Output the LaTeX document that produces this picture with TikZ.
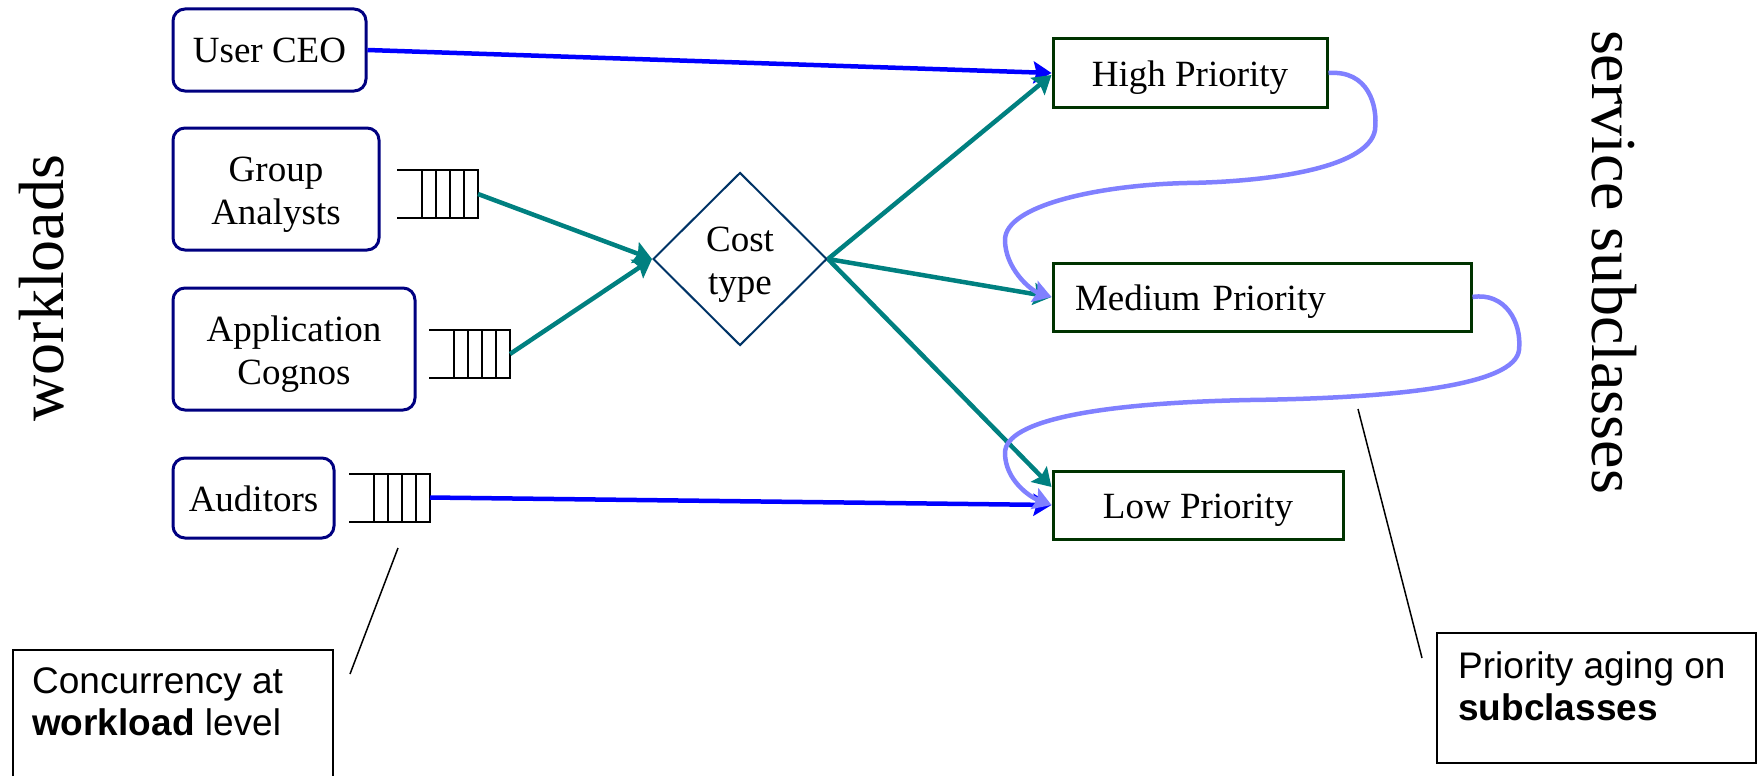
\documentclass[tikz,border=0pt]{standalone}
\usepackage{fontspec}
\setmainfont{Liberation Serif}
\newfontfamily\calloutfont{Liberation Sans}
\usetikzlibrary{shapes.geometric,arrows.meta,calc}

\definecolor{wlnavy}{HTML}{000080}
\definecolor{prgreen}{HTML}{003300}
\definecolor{costblue}{HTML}{003366}
\definecolor{flowteal}{HTML}{008080}
\definecolor{flowblue}{HTML}{0000FF}
\definecolor{agingblue}{HTML}{8080FF}

\tikzset{
  bodytext/.style={font=\fontsize{37}{43}\selectfont},
  oneline/.style={text height=30pt, text depth=4pt},
  twoline/.style={text height=74pt, text depth=4pt},
  wlbox/.style={bodytext, draw=wlnavy, line width=3pt, rounded corners=12pt,
    align=center, inner sep=0pt},
  prbox/.style={bodytext, oneline, draw=prgreen, line width=3pt, inner sep=0pt,
    minimum height=68pt},
  costbox/.style={bodytext, twoline, shape=diamond, draw=costblue, line width=2pt,
    aspect=1, minimum width=174pt, minimum height=173pt, inner sep=0pt,
    align=center},
  qbox/.style={minimum width=81pt, minimum height=48pt, inner sep=0pt,
    outer sep=0pt},
  qline/.style={draw=black, line width=2pt},
  headtip/.style={-{Stealth[length=18pt,width=22pt,inset=3pt]}},
  blueflow/.style={headtip, draw=flowblue, line width=4.5pt},
  tealflow/.style={headtip, draw=flowteal, line width=4.5pt},
  aging/.style={headtip, draw=agingblue, line width=4.5pt},
  callbox/.style={draw=black, line width=2pt},
  calltext/.style={font=\calloutfont\fontsize{37}{42}\selectfont,
    align=left, inner sep=0pt},
  leader/.style={draw=black, line width=1.5pt},
  title/.style={font=\fontsize{64}{64}\selectfont, inner sep=0pt}
}

\begin{document}
\begin{tikzpicture}[x=1pt,y=-1pt]
\useasboundingbox (0,0) rectangle (1758,776);

% side titles
\node[title, rotate=90] (wl) at (42,288) {workloads};
\node[title, rotate=-90] (sc) at (1614,262) {service subclasses};

% workloads
\node[wlbox, oneline, minimum width=193pt, minimum height=82pt] (ceo) at (269.5,50) {User CEO};
\node[wlbox, twoline, minimum width=206pt, minimum height=122pt] (ga) at (276,189) {Group\\Analysts};
\node[wlbox, twoline, minimum width=242pt, minimum height=122pt] (app) at (294,349) {Application\\Cognos};
\node[wlbox, oneline, minimum width=161pt, minimum height=80pt] (aud) at (253.5,498) {Auditors};

% queues in front of the workloads
\node[qbox] (qga) at (437.5,194) {};
\node[qbox] (qapp) at (469.5,354) {};
\node[qbox] (qaud) at (389.5,497.5) {};
\foreach \q in {qga,qapp,qaud} {
  \draw[qline] (\q.north west) -- (\q.north east) -- (\q.south east) -- (\q.south west);
  \foreach \f in {0.309,0.481,0.654,0.827}
    \draw[qline] ($(\q.north west)!\f!(\q.north east)$) -- ($(\q.south west)!\f!(\q.south east)$);
}

% classifier
\node[costbox] (cost) at (740,259) {Cost\\type};

% service subclasses
\node[prbox, minimum width=274pt] (high) at (1190,73) {High Priority};
\node[prbox, minimum width=418pt, text width=374pt, inner xsep=22pt, align=left] (med) at (1262,297) {Medium Priority};
\node[prbox, minimum width=290pt] (low) at (1198,505) {Low Priority};

% routing
\draw[blueflow] (ceo.east) -- (high.west);
\draw[tealflow] (qga.east) -- (cost.west);
\draw[tealflow] (qapp.east) -- (cost.west);
\draw[tealflow] (cost.east) -- ([yshift=-2pt]high.west);
\draw[tealflow] (cost.east) -- (med.west);
\draw[tealflow] (cost.east) -- ([yshift=18pt]low.west);
\draw[blueflow] (qaud.east) -- (low.west);

% priority aging
\draw[aging] (high.east) .. controls (1368,70) and (1378,105) .. (1375,130)
  .. controls (1368,170) and (1260,182) .. (1187,183)
  .. controls (1100,185) and (1005,205) .. (1005,240)
  .. controls (1005,268) and (1030,290) .. (med.west);
\draw[aging] (med.east) .. controls (1505,292) and (1522,322) .. (1519,350)
  .. controls (1515,385) and (1400,398) .. (1250,400)
  .. controls (1100,403) and (1005,420) .. (1005,453)
  .. controls (1005,480) and (1030,497) .. (low.west);

% callouts
\draw[callbox] (13,776) |- (333,650) -- (333,776);
\node[calltext, anchor=north west] (cctext) at (32,667) {Concurrency at\\\textbf{workload} level};
\coordinate (cctop) at (398,548);
\coordinate (ccend) at (350,674);
\draw[leader] (cctop) -- (ccend);

\node[callbox, minimum width=319pt, minimum height=130pt] (agebox) at (1596.5,698) {};
\node[calltext, anchor=north west] (agetext) at (1458,651) {Priority aging on\\\textbf{subclasses}};
\coordinate (agetop) at (1358,409);
\coordinate (ageend) at (1422,658);
\draw[leader] (agetop) -- (ageend);
\end{tikzpicture}
\end{document}
